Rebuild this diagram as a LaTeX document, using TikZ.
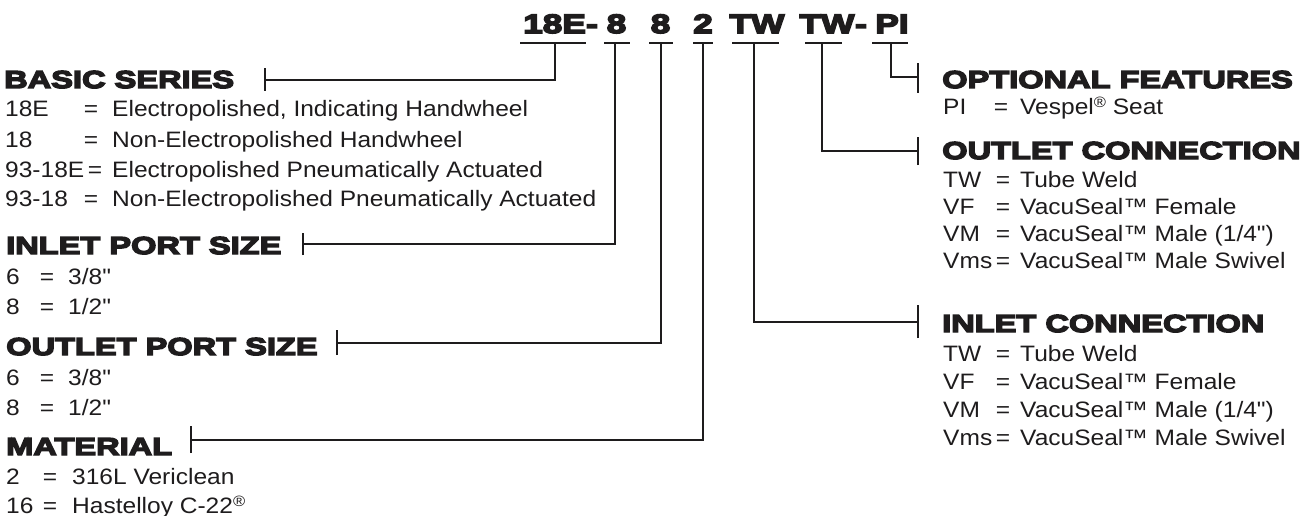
\documentclass[tikz,border=0pt]{standalone}
\usepackage{fontspec}
\setmainfont{Liberation Sans}
\newfontfamily\bodyfont[FakeStretch=1.10]{Liberation Sans}
\newfontfamily\heavyfont[FakeStretch=1.33,FakeBold=6]{Liberation Sans Bold}
\definecolor{ink}{HTML}{1E1C1D}
\newcommand\regmark{\raisebox{0.55ex}{\fontsize{15}{15}\selectfont ®}}
% name, code x, eq x (centre), desc x, y, code, desc
\newcommand\entryrow[7]{%
  \node[body,anchor=base west] (#1c) at (#2,#5) {#6};
  \node[body,anchor=base] (#1e) at (#3,#5) {=};
  \node[body,anchor=base west] (#1d) at (#4,#5) {#7};}
\begin{document}
\begin{tikzpicture}[x=1pt,y=-1pt,
  body/.style={font=\bodyfont\fontsize{22.3}{26}\selectfont,inner sep=0pt,text=ink},
  head/.style={font=\heavyfont\fontsize{24.5}{28}\selectfont,inner sep=0pt,anchor=base west,text=ink},
  codetok/.style={font=\heavyfont\fontsize{26.5}{28}\selectfont,inner sep=0pt,anchor=base,text=ink},
  link/.style={draw=ink,line width=1.8pt}]
\useasboundingbox[fill=white] (0,0) rectangle (1313,516);

% ---- code line ----
\node[codetok] (c18E) at (554.5,33) {18E};
\node[codetok] (cd1)  at (592,33)   {-};
\node[codetok] (c8a)  at (616.5,33) {8};
\node[codetok] (c8b)  at (660.5,33) {8};
\node[codetok] (c2)   at (703,33)   {2};
\node[codetok] (cTWa) at (757,33)   {TW};
\node[codetok] (cTWb) at (827,33)   {TW};
\node[codetok] (cd2)  at (861,33)   {-};
\node[codetok] (cPI)  at (892,33)   {PI};

% underlines
\draw[link] (520,43) -- (586,43);
\draw[link] (604,43) -- (630,43);
\draw[link] (649,43) -- (673,43);
\draw[link] (693,43) -- (713,43);
\draw[link] (732,43) -- (779,43);
\draw[link] (805,43) -- (842,43);
\draw[link] (872,43) -- (908,43);

% ---- left column ----
\node[head] (hBasic) at (4,88) {BASIC SERIES};
\entryrow{b1}{5}{91}{112}{117}{18E}{Electropolished, Indicating Handwheel}
\entryrow{b2}{5}{91}{112}{147}{18}{Non-Electropolished Handwheel}
\entryrow{b3}{5}{95}{112}{177}{93-18E}{Electropolished Pneumatically Actuated}
\entryrow{b4}{5}{91}{112}{206}{93-18}{Non-Electropolished Pneumatically Actuated}

\node[head] (hInlet) at (6,254) {INLET PORT SIZE};
\entryrow{i1}{6}{47}{68}{284}{6}{3/8"}
\entryrow{i2}{6}{47}{68}{314}{8}{1/2"}

\node[head] (hOutlet) at (6,355) {OUTLET PORT SIZE};
\entryrow{o1}{6}{47}{68}{385}{6}{3/8"}
\entryrow{o2}{6}{47}{68}{415}{8}{1/2"}

\node[head] (hMat) at (6,455) {MATERIAL};
\entryrow{m1}{6}{50}{72}{484}{2}{316L Vericlean}
\entryrow{m2}{6}{50}{72}{513}{16}{Hastelloy C-22\regmark}

% ---- right column ----
\node[head] (hOpt) at (942,88) {OPTIONAL FEATURES};
\entryrow{p1}{943}{1001}{1020}{114}{PI}{Vespel\regmark{} Seat}

\node[head] (hOutC) at (942,159) {OUTLET CONNECTION};
\entryrow{oc1}{943}{1003}{1020}{187}{TW}{Tube Weld}
\entryrow{oc2}{943}{1003}{1020}{214}{VF}{VacuSeal™ Female}
\entryrow{oc3}{943}{1003}{1020}{241}{VM}{VacuSeal™ Male (1/4")}
\entryrow{oc4}{943}{1003}{1020}{268}{Vms}{VacuSeal™ Male Swivel}

\node[head] (hInC) at (942,332) {INLET CONNECTION};
\entryrow{ic1}{943}{1003}{1020}{361}{TW}{Tube Weld}
\entryrow{ic2}{943}{1003}{1020}{389}{VF}{VacuSeal™ Female}
\entryrow{ic3}{943}{1003}{1020}{417}{VM}{VacuSeal™ Male (1/4")}
\entryrow{ic4}{943}{1003}{1020}{445}{Vms}{VacuSeal™ Male Swivel}

% ---- connector coordinates ----
\coordinate (jB) at (555,43);  \coordinate (tB) at (265,80);
\coordinate (jI) at (615,43);  \coordinate (tI) at (303,244);
\coordinate (jO) at (661,43);  \coordinate (tO) at (337,343);
\coordinate (jM) at (703,43);  \coordinate (tM) at (191,440);
\coordinate (jIC) at (754,43); \coordinate (tIC) at (918,322);
\coordinate (jOC) at (822,43); \coordinate (tOC) at (918,151);
\coordinate (jP) at (891,43);  \coordinate (tP) at (918,77);

% connectors
\draw[link] (jB) |- (tB);
\draw[link] (jI) |- (tI);
\draw[link] (jO) |- (tO);
\draw[link] (jM) |- (tM);
\draw[link] (jIC) |- (tIC);
\draw[link] (jOC) |- (tOC);
\draw[link] (jP) |- (tP);

% ticks
\draw[link] ([yshift=-11pt]tB) -- ([yshift=12pt]tB);
\draw[link] ([yshift=-11pt]tI) -- ([yshift=11pt]tI);
\draw[link] ([yshift=-12pt]tO) -- ([yshift=13pt]tO);
\draw[link] ([yshift=-13pt]tM) -- ([yshift=14pt]tM);
\draw[link] ([yshift=-16pt]tIC) -- ([yshift=17pt]tIC);
\draw[link] ([yshift=-14pt]tOC) -- ([yshift=14pt]tOC);
\draw[link] ([yshift=-16pt]tP) -- ([yshift=14pt]tP);
\end{tikzpicture}
\end{document}
